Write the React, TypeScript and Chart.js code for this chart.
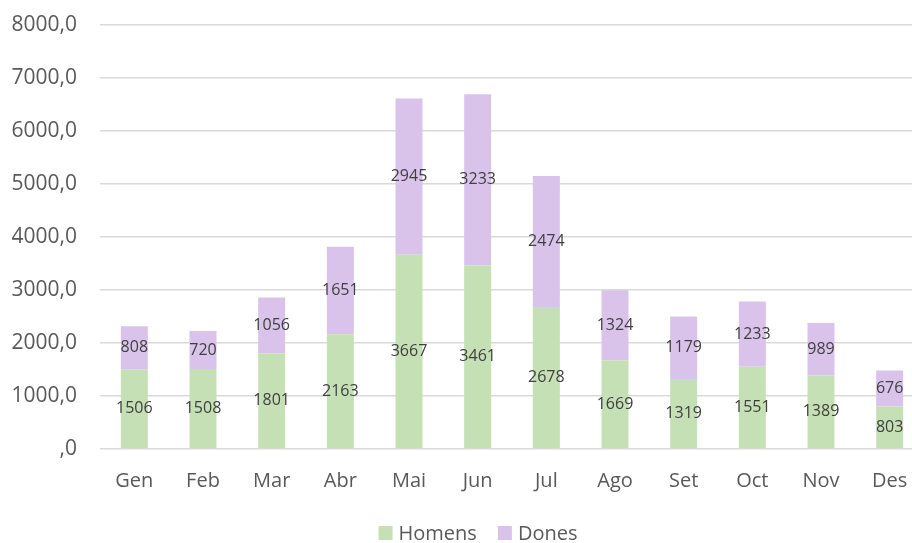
import React, { useEffect, useRef } from "react";
import { Chart, registerables } from "chart.js";

Chart.register(...registerables);

const months = ["Gen", "Feb", "Mar", "Abr", "Mai", "Jun", "Jul", "Ago", "Set", "Oct", "Nov", "Des"];
const homens = [1506, 1508, 1801, 2163, 3667, 3461, 2678, 1669, 1319, 1551, 1389, 803];
const dones = [808, 720, 1056, 1651, 2945, 3233, 2474, 1324, 1179, 1233, 989, 676];
const seriesNames = ["Homens", "Dones"];
const seriesColors = ["#C5E0B4", "#D9C3EB"];
const yMax = 8000;
const yStep = 1000;

const FONT = "'Open Sans', 'Liberation Sans', sans-serif";

const barLabels = {
  id: "barLabels",
  afterDatasetsDraw(chart: any) {
    const ctx = chart.ctx;
    ctx.save();
    ctx.font = `16px ${FONT}`;
    ctx.fillStyle = "#404040";
    ctx.textAlign = "center";
    ctx.textBaseline = "middle";
    chart.data.datasets.forEach((ds: any, di: number) => {
      const meta = chart.getDatasetMeta(di);
      if (meta.hidden) return;
      meta.data.forEach((el: any, i: number) => {
        const p = el.getProps(["x", "y", "base"], true);
        ctx.fillText(String(ds.data[i]), p.x, (p.y + p.base) / 2);
      });
    });
    ctx.restore();
  },
};

const customLegend = {
  id: "customLegend",
  afterDraw(chart: any) {
    const ctx = chart.ctx;
    const box = 14;
    const gap = 6;
    const itemGap = 21;
    const centerX = 478;
    const centerY = 533;
    ctx.save();
    ctx.font = `20px ${FONT}`;
    ctx.textBaseline = "middle";
    ctx.textAlign = "left";
    const items = chart.data.datasets.map((ds: any) => ({
      label: ds.label,
      color: ds.backgroundColor,
      w: ctx.measureText(ds.label).width,
    }));
    const total = items.reduce((a: number, it: any) => a + box + gap + it.w, 0) + itemGap * (items.length - 1);
    let x = centerX - total / 2;
    items.forEach((it: any) => {
      ctx.fillStyle = it.color;
      ctx.fillRect(x, centerY - box / 2, box, box);
      ctx.fillStyle = "#595959";
      ctx.fillText(it.label, x + box + gap, centerY + 1);
      x += box + gap + it.w + itemGap;
    });
    ctx.restore();
  },
};

export default function App() {
  const ref = useRef<HTMLCanvasElement>(null);
  useEffect(() => {
    document.body.style.margin = "0";
    const chart = new Chart(ref.current!, {
      type: "bar",
      data: {
        labels: months,
        datasets: [
          { label: seriesNames[0], data: homens, backgroundColor: seriesColors[0], barPercentage: 0.393, categoryPercentage: 1 },
          { label: seriesNames[1], data: dones, backgroundColor: seriesColors[1], barPercentage: 0.393, categoryPercentage: 1 },
        ],
      },
      options: {
        animation: false,
        responsive: false,
        layout: { padding: { left: 0, right: 0, top: 25, bottom: 39 } },
        plugins: {
          tooltip: { enabled: false },
          legend: { display: false },
        },
        scales: {
          x: {
            stacked: true,
            grid: { display: false, drawTicks: false },
            border: { display: false },
            ticks: { font: { family: FONT, size: 20 }, color: "#595959", padding: 20 },
            afterFit: (s: any) => { s.height = 55; s.paddingLeft = 0; s.paddingRight = 0; },
          },
          y: {
            stacked: true,
            min: 0,
            max: yMax,
            grid: { color: "#D9D9D9", lineWidth: 1.5, drawTicks: false },
            border: { display: false },
            ticks: {
              stepSize: yStep,
              font: { family: FONT, size: 21 },
              color: "#595959",
              padding: 23,
              callback: (v: any) => (v === 0 ? ",0" : `${v},0`),
            },
            afterFit: (s: any) => { s.width = 100; s.paddingTop = 0; s.paddingBottom = 0; },
          },
        },
      },
      plugins: [barLabels, customLegend],
    });
    return () => chart.destroy();
  }, []);
  return (
    <div style={{ position: "absolute", left: 0, top: 0, width: 912, height: 543, overflow: "hidden", background: "#fff" }}>
      <canvas ref={ref} width={924} height={543} />
    </div>
  );
}
